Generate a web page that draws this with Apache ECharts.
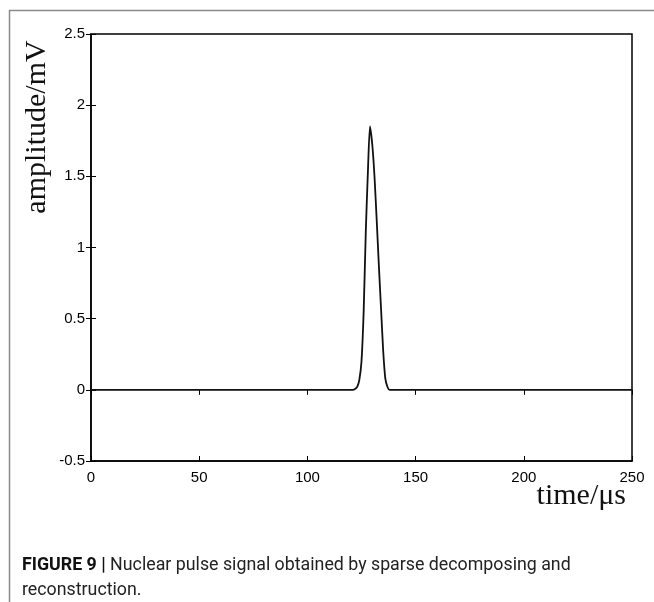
<!DOCTYPE html>
<html>
<head>
<meta charset="utf-8">
<script src="https://cdn.jsdelivr.net/npm/echarts@6/dist/echarts.min.js"></script>
<style>
  html, body { margin: 0; padding: 0; background: #fff; }
  #main { width: 654px; height: 602px; }
</style>
</head>
<body>
<div id="main"></div>
<script>
// pulse samples (time in us, amplitude in mV)
var times = [0, 121, 122, 123, 124, 125, 126, 127, 128, 128.9, 130, 131, 132, 133, 134, 135, 136, 137, 138, 250];
var amplitude = [0, 0, 0.005, 0.02, 0.07, 0.2, 0.55, 1.12, 1.55, 1.85, 1.72, 1.5, 1.2, 0.88, 0.58, 0.28, 0.08, 0.02, 0, 0];
var xTicks = [0, 50, 100, 150, 200, 250];
var yTicks = [-0.5, 0, 0.5, 1, 1.5, 2, 2.5];

var points = [];
for (var i = 0; i < times.length; i++) {
    points.push([times[i], amplitude[i]]);
}

var myChart = echarts.init(document.getElementById('main'));
var tickStyle = { show: true, inside: true, length: 5, lineStyle: { color: '#000', width: 1 } };
var option = {
    animation: false,
    grid: {
        left: 91, top: 34, right: 22, bottom: 141,
        show: true, borderColor: '#000', borderWidth: 1.5
    },
    xAxis: [
        {
            type: 'value', min: xTicks[0], max: xTicks[xTicks.length - 1], interval: 50,
            axisLine: { show: true, onZero: false, lineStyle: { color: '#000', width: 1.5 } },
            axisTick: tickStyle,
            splitLine: { show: false },
            axisLabel: { color: '#000', fontFamily: 'Liberation Sans', fontSize: 15, margin: 9 }
        },
        {
            type: 'value', position: 'top', min: 0, max: 250, interval: 50,
            axisLine: { show: false }, axisTick: tickStyle,
            axisLabel: { show: false }, splitLine: { show: false }
        }
    ],
    yAxis: [
        {
            type: 'value', min: yTicks[0], max: yTicks[yTicks.length - 1], interval: 0.5,
            axisLine: { show: true, onZero: false, lineStyle: { color: '#000', width: 1.5 } },
            axisTick: tickStyle,
            splitLine: { show: false },
            axisLabel: { color: '#000', fontFamily: 'Liberation Sans', fontSize: 15, margin: 6 }
        },
        {
            type: 'value', position: 'right', min: -0.5, max: 2.5, interval: 0.5,
            axisLine: { show: false }, axisTick: tickStyle,
            axisLabel: { show: false }, splitLine: { show: false }
        }
    ],
    series: [
        {
            type: 'line',
            data: points,
            showSymbol: false,
            smooth: 0.2,
            lineStyle: { color: '#111', width: 1.8 }
        }
    ],
    graphic: [
        { type: 'line', shape: { x1: 9, y1: 10.5, x2: 654, y2: 10.5 }, style: { stroke: '#8a8a8a', lineWidth: 1.5 } },
        { type: 'line', shape: { x1: 9.5, y1: 10, x2: 9.5, y2: 602 }, style: { stroke: '#8a8a8a', lineWidth: 1.5 } },
        {
            type: 'text', x: 37, y: 127, rotation: Math.PI / 2,
            style: {
                text: 'amplitude/mV', fill: '#111', font: '30px "Liberation Serif"',
                align: 'center', verticalAlign: 'middle'
            }
        },
        {
            type: 'text', x: 626, y: 496,
            style: {
                text: 'time/\u03bcs', fill: '#111', font: '30px "Liberation Serif"',
                align: 'right', verticalAlign: 'middle'
            }
        },
        {
            type: 'text', x: 22, y: 553,
            style: {
                text: '{b|FIGURE 9 |} Nuclear pulse signal obtained by sparse decomposing and\nreconstruction.',
                fill: '#222', font: '17.8px Roboto', lineHeight: 25,
                rich: { b: { fontWeight: 'bold', fontSize: 17.8, fontFamily: 'Roboto', fill: '#111', lineHeight: 25 } }
            }
        }
    ]
};
myChart.setOption(option);
</script>
</body>
</html>
